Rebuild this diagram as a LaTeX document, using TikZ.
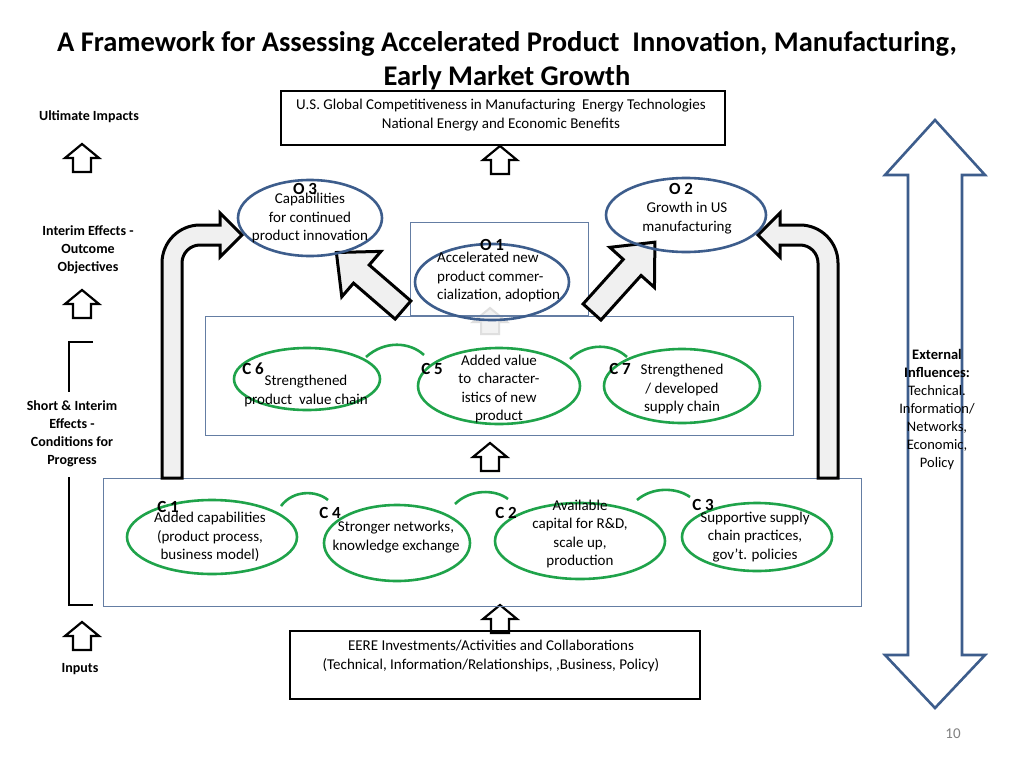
\documentclass[tikz,border=0pt]{standalone}
\usepackage{fontspec}
\setmainfont{Carlito}
\begin{document}
\begin{tikzpicture}[x=1pt,y=-1pt,
  txt/.style={font=\fontsize{15}{18.5}\selectfont,align=center,inner sep=0pt},
  lbl/.style={font=\bfseries\fontsize{14}{18}\selectfont,align=center,inner sep=0pt},
  cl/.style={font=\bfseries\fontsize{17}{18}\selectfont,inner sep=0pt},
  bo/.style={draw=bblue,line width=2.6pt},
  gr/.style={draw=ggreen,line width=2.6pt},
  thinbox/.style={draw=bblue!80,line width=0.8pt},
  big/.style={draw=black,line width=3pt,fill=gray!12,line join=miter},
  upa/.style={draw=black,line width=2.2pt,fill=white,line join=miter}]
\definecolor{bblue}{HTML}{3D5D8C}
\definecolor{ggreen}{HTML}{1FA34A}
\useasboundingbox (0,0) rectangle (1024,768);
\fill[white] (0,0) rectangle (1024,768);
% title
\node[font=\bfseries\fontsize{28.5}{34}\selectfont,align=center] (title) at (507,61) {A Framework for Assessing Accelerated Product\ \ Innovation, Manufacturing,\\Early Market Growth};
% top box
\draw[line width=2pt] (281,91) rectangle (725,145);
\node[txt] (top) at (501,115) {U.S. Global Competitiveness in Manufacturing\ \ Energy Technologies\\National Energy and Economic Benefits};
% small up arrows
\foreach \n/\cx/\ty in {a1/500/146,a2/82/144,a3/82/290,a4/490/443,a5/82/622,a6/500/605}{
  \draw[upa] (\cx,\ty) -- ++(17,14) -- ++(-8,0) -- ++(0,14) -- ++(-18,0) -- ++(0,-14) -- ++(-8,0) -- cycle;
}
\draw[draw=gray!25,line width=2pt,fill=gray!10] (490,308) -- ++(17,14) -- ++(-8,0) -- ++(0,12) -- ++(-18,0) -- ++(0,-12) -- ++(-8,0) -- cycle;
% left labels
\node[lbl] (l1) at (89,117) {Ultimate Impacts};
\node[lbl] (l2) at (88,250) {Interim Effects\ -\\Outcome\\Objectives};
\node[lbl] (l3) at (72,434) {Short \& Interim\\Effects\ -\\Conditions for\\Progress};
\node[lbl] (l4) at (80,669) {Inputs};
\draw[line width=1.2pt] (93,342) -- (69,342) -- (69,392);
\draw[line width=1.2pt] (69,477) -- (69,605) -- (93,605);
% boxes
\draw[thinbox] (410,222) rectangle (588,315);
\draw[thinbox] (205,316) rectangle (793,435);
\draw[thinbox] (103,478) rectangle (861,606);
% bent arrows
\draw[big] (162,478) [rounded corners=38] -- (162,225) [sharp corners] -- (220,225) -- (220,213) -- (242,235) -- (220,257) -- (220,245) [rounded corners=18] -- (182,245) [sharp corners] -- (182,478) -- cycle;
\draw[big] (838,478) [rounded corners=38] -- (838,225) [sharp corners] -- (780,225) -- (780,213) -- (758,235) -- (780,257) -- (780,245) [rounded corners=18] -- (818,245) [sharp corners] -- (818,478) -- cycle;
% diagonal arrows
\begin{scope}[shift={(403,310)},rotate=139.2]
\draw[big] (0,-12) -- (55,-12) -- (55,-30) -- (88,0) -- (55,30) -- (55,12) -- (0,12) -- cycle;
\end{scope}
\begin{scope}[shift={(592,312)},rotate=48]
\draw[big] (0,-12) -- (60,-12) -- (60,-30) -- (94,0) -- (60,30) -- (60,12) -- (0,12) -- cycle;
\end{scope}
% outcome ellipses
\draw[bo] (310,218) ellipse [x radius=72,y radius=38];
\draw[bo] (686,215) ellipse [x radius=80,y radius=37];
\draw[bo] (492,282) ellipse [x radius=77,y radius=38];
\node[txt] (o3t) at (310,218) {Capabilities\\for continued\\product innovation};
\node[txt] (o2t) at (687,218) {Growth in US\\manufacturing};
\node[txt,align=left,anchor=west] (o1t) at (437,277) {Accelerated new\\product commer-\\cialization, adoption};
\node[cl] (o3) at (305,189) {O 3};
\node[cl] (o2) at (681,189) {O 2};
\node[cl] (o1) at (492,245) {O 1};
% green ellipses
\draw[gr] (307,379) ellipse [x radius=73,y radius=31];
\draw[gr] (499,386) ellipse [x radius=81,y radius=38];
\draw[gr] (682,386) ellipse [x radius=78,y radius=37];
\draw[gr] (212,537) ellipse [x radius=85,y radius=37];
\draw[gr] (397,543) ellipse [x radius=73,y radius=38];
\draw[gr] (580,541) ellipse [x radius=85,y radius=38];
\draw[gr] (757,537) ellipse [x radius=75,y radius=34];
% green tabs
\draw[gr] (366,357) .. controls (385,340) and (410,342) .. (424,355);
\draw[gr] (570,359) .. controls (588,342) and (613,344) .. (627,357);
\draw[gr] (281,506) .. controls (293,490) and (316,490) .. (328,500);
\draw[gr] (455,504) .. controls (470,489) and (495,489) .. (508,499);
\draw[gr] (637,500) .. controls (652,487) and (676,487) .. (690,497);
% green texts
\node[txt] (c6t) at (306,391) {Strengthened\\product\ \ value chain};
\node[txt] (c5t) at (499,389) {Added value\\to\ \ character-\\istics of new\\product};
\node[txt] (c7t) at (682,389) {Strengthened\\/ developed\\supply chain};
\node[txt] (c1t) at (210,537) {Added capabilities\\(product process,\\business model)};
\node[txt] (c4t) at (396,537) {Stronger networks,\\knowledge exchange};
\node[txt] (c2t) at (580,534) {Available\\capital for R\&D,\\scale up,\\production};
\node[txt] (c3t) at (755,537) {Supportive supply\\chain practices,\\gov’t. policies};
\node[cl] (c6) at (253,369) {C 6};
\node[cl] (c5) at (432,369) {C 5};
\node[cl] (c7) at (620,369) {C 7};
\node[cl] (c1) at (168,507) {C 1};
\node[cl] (c4) at (330,513) {C 4};
\node[cl] (c2) at (506,513) {C 2};
\node[cl] (c3) at (703,505) {C 3};
% double arrow
\draw[draw=bblue,line width=2.6pt,fill=white,line join=miter] (935,120) -- (985,175) -- (962,175) -- (962,655) -- (985,655) -- (935,708) -- (885,655) -- (908,655) -- (908,175) -- (885,175) -- cycle;
\node[txt,font=\fontsize{14.5}{18}\selectfont] (ext) at (937,410) {\textbf{External}\\\textbf{Influences:}\\Technical.\\Information/\\Networks,\\Economic,\\Policy};
% bottom box
\draw[line width=2pt] (290,631) rectangle (700,699);
\node[txt] (eere) at (491,656) {EERE Investments/Activities and Collaborations\\(Technical, Information/Relationships, ,Business, Policy)};
\node[txt,text=gray] (pg) at (953,734) {10};
\end{tikzpicture}
\end{document}
